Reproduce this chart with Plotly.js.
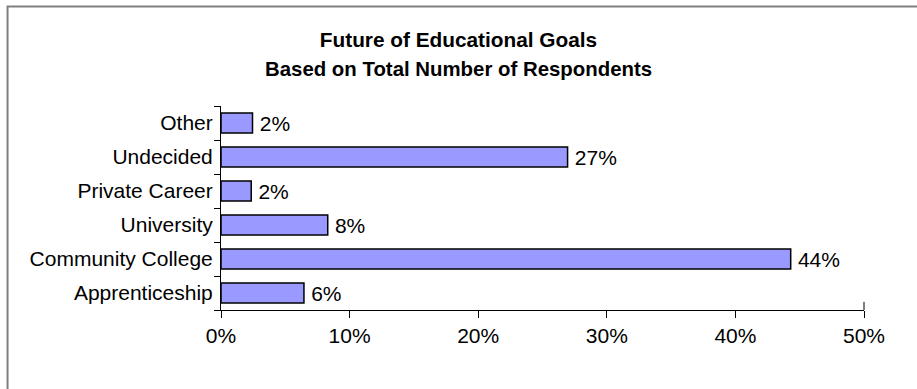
<!DOCTYPE html>
<html>
<head>
<meta charset="utf-8">
<script src="https://cdn.plot.ly/plotly-3.0.1.min.js"></script>
<style>html,body{margin:0;padding:0;background:#fff;}#chart{width:917px;height:389px;}</style>
</head>
<body>
<div id="chart"></div>
<script>
const categories = ["Apprenticeship", "Community College", "University", "Private Career", "Undecided", "Other"];
const values = [6.45, 44.3, 8.3, 2.35, 26.95, 2.45];
const valueLabels = ["6%", "44%", "8%", "2%", "27%", "2%"];
const xTickVals = [0, 10, 20, 30, 40, 50];
const xTickText = ["0%", "10%", "20%", "30%", "40%", "50%"];
const titleLine1 = "Future of Educational Goals";
const titleLine2 = "Based on Total Number of Respondents";

const font = "Liberation Sans, Arial, sans-serif";

const trace = {
  type: "bar",
  orientation: "h",
  y: categories,
  x: values,
  text: valueLabels.map(s => "\u2009" + s),
  textposition: "outside",
  constraintext: "none",
  cliponaxis: false,
  textfont: {family: font, size: 21, color: "#000"},
  marker: {color: "#9999FF", line: {color: "#000", width: 1.5}},
  width: 0.59,
  hoverinfo: "none"
};

const layout = {
  width: 917, height: 389,
  margin: {l: 221, r: 53, t: 106, b: 79},
  paper_bgcolor: "#fff", plot_bgcolor: "#fff",
  showlegend: false,
  title: {text: titleLine1, font: {family: font, size: 20.8, color: "#000", weight: "bold"},
          x: 0.5, xanchor: "center", y: 1 - 40 / 389, yanchor: "middle"},
  annotations: [
    {text: titleLine2, showarrow: false, xref: "paper", yref: "paper",
     x: (458.5 - 221) / 643, xanchor: "center", y: (310 - 69) / 204, yanchor: "middle",
     font: {family: font, size: 20.4, color: "#000", weight: "bold"}}
  ],
  xaxis: {
    range: [0, 50], tickvals: xTickVals, ticktext: xTickText,
    showgrid: false, zeroline: false, showline: true, linecolor: "#000", linewidth: 1,
    ticks: "outside", ticklen: 7, tickcolor: "#000", tickwidth: 1,
    tickfont: {family: font, size: 21, color: "#000"}, fixedrange: true
  },
  yaxis: {
    type: "category", categoryorder: "array", categoryarray: categories,
    showgrid: false, zeroline: false, showline: true, linecolor: "#000", linewidth: 1,
    ticks: "outside", ticklen: 6, tickcolor: "#000", tickwidth: 1, tickson: "boundaries",
    tickfont: {family: font, size: 21, color: "#000"}, ticklabelstandoff: 3, fixedrange: true
  },
  shapes: [
    {type: "path", xref: "paper", yref: "paper",
     path: "M -0.3320 -0.5 L -0.3320 1.4877 L 1.2 1.4877",
     line: {color: "#808080", width: 2}},
    {type: "line", xref: "paper", yref: "paper", x0: 1, x1: 1, y0: 0, y1: 0.04,
     line: {color: "#000", width: 1}}
  ]
};

Plotly.newPlot("chart", [trace], layout, {displayModeBar: false, staticPlot: true});
</script>
</body>
</html>
